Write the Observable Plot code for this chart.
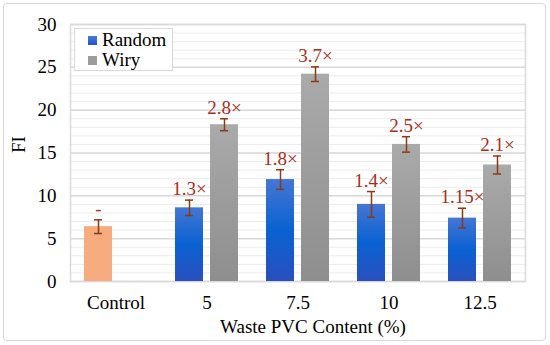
<!DOCTYPE html>
<html>
<head>
<meta charset="utf-8">
<script src="https://cdn.jsdelivr.net/npm/d3@7"></script>
<script src="https://cdn.jsdelivr.net/npm/@observablehq/plot@0.6"></script>
<style>
  html, body { margin: 0; padding: 0; background: #fff; }
  #wrap { position: relative; width: 550px; height: 345px; font-family: "Liberation Serif", "Times New Roman", serif; }
  #border { position: absolute; left: 3px; top: 3px; width: 541px; height: 336px; border: 1.5px solid #d9d9d9; border-radius: 4px; pointer-events: none; }
  #legend { position: absolute; left: 74px; top: 28px; width: 97px; height: 41px; background: #fff; border: 1px solid #d9d9d9; font-size: 19px; color: #000; }
  .item { position: absolute; left: 13px; display: flex; align-items: center; line-height: 20px; }
  .sw { width: 9px; height: 9px; margin-right: 5px; }
</style>
</head>
<body>
<div id="wrap">
  <div id="chart"></div>
  <div id="border"></div>
  <div id="legend">
    <div class="item" style="top:1px"><span class="sw" style="background:linear-gradient(#4a78d6,#1d55c8)"></span>Random</div>
    <div class="item" style="top:21px"><span class="sw" style="background:#9c9c9c"></span>Wiry</div>
  </div>
</div>
<script>
// ---- data ----
const categories = ["Control", "5", "7.5", "10", "12.5"];
const controlValue = 6.4;
const controlErr = 0.8;
const controlLabel = "-";
const randomCats = ["5", "7.5", "10", "12.5"];
const randomValues = [8.6, 11.9, 9.0, 7.4];
const randomErr = [0.9, 1.15, 1.5, 1.15];
const randomLabels = ["1.3×", "1.8×", "1.4×", "1.15×"];
const wiryValues = [18.3, 24.2, 16.0, 13.6];
const wiryErr = [0.7, 0.85, 0.9, 1.05];
const wiryLabels = ["2.8×", "3.7×", "2.5×", "2.1×"];
const yTicks = [0, 5, 10, 15, 20, 25, 30];
const minorTicks = d3.range(0, 31, 1);

// ---- tables ----
const control = [{cat: "Control", v: controlValue, e: controlErr, label: controlLabel}];
const random = randomCats.map((c, i) => ({cat: c, v: randomValues[i], e: randomErr[i], label: randomLabels[i]}));
const wiry = randomCats.map((c, i) => ({cat: c, v: wiryValues[i], e: wiryErr[i], label: wiryLabels[i]}));
const leftSeries = control.concat(random);

const serif = "Liberation Serif, Times New Roman, serif";
const errColor = "#8b3a12";
const labelColor = "#a5301c";

// left slot (Random / Control) and right slot (Wiry) within each band
const L = {insetLeft: 14, insetRight: 49};
const R = {insetLeft: 49, insetRight: 14};
const Ldx = -17.5, Rdx = 17.5;

function errMarks(data, dx) {
  return [
    Plot.ruleX(data, {x: "cat", y1: d => d.v - d.e, y2: d => d.v + d.e, dx, stroke: errColor, strokeWidth: 1.5}),
    Plot.tickY(data, {x: "cat", y: d => d.v + d.e, stroke: errColor, strokeWidth: 1.5,
      insetLeft: 45.5 + dx - 4, insetRight: 45.5 - dx - 4}),
    Plot.tickY(data, {x: "cat", y: d => d.v - d.e, stroke: errColor, strokeWidth: 1.5,
      insetLeft: 45.5 + dx - 4, insetRight: 45.5 - dx - 4}),
    Plot.text(data, {x: "cat", y: d => d.v + d.e, text: "label", dx, dy: -11, fill: labelColor,
      fontSize: 19, fontFamily: serif, textAnchor: "middle", lineAnchor: "middle"})
  ];
}

const plot = Plot.plot({
  width: 550,
  height: 345,
  marginLeft: 70,
  marginRight: 25,
  marginTop: 24,
  marginBottom: 64,
  style: {fontFamily: serif, fontSize: "19px", color: "#000", background: "transparent"},
  x: {domain: categories, padding: 0, tickSize: 0, tickPadding: 14, label: null},
  y: {domain: [0, 30], ticks: yTicks, tickSize: 0, tickPadding: 14, label: null},
  marks: [
    Plot.ruleY(minorTicks, {stroke: "#ececec", strokeWidth: 1}),
    Plot.ruleY(yTicks, {stroke: "#d9d9d9", strokeWidth: 1.5}),
    Plot.frame({stroke: "#d9d9d9", strokeWidth: 1.5}),
    Plot.barY(control, {x: "cat", y: "v", fill: "#f7ac80", ...L}),
    Plot.barY(random, {x: "cat", y: "v", fill: "url(#gradBlue)", ...L}),
    Plot.barY(wiry, {x: "cat", y: "v", fill: "url(#gradGrey)", ...R}),
    ...errMarks(leftSeries, Ldx),
    ...errMarks(wiry, Rdx),
    Plot.text(["FI"], {frameAnchor: "left", dx: -52, rotate: -90, fontSize: 19, fontFamily: serif, fill: "#000"}),
    Plot.text(["Waste PVC Content (%)"], {frameAnchor: "bottom", dy: 51, dx: 15, fontSize: 19, fontFamily: serif, fill: "#000"})
  ]
});

const svg = d3.select(plot);
const defs = svg.insert("defs", ":first-child");
const gb = defs.append("linearGradient").attr("id", "gradBlue").attr("x1", 0).attr("y1", 0).attr("x2", 0).attr("y2", 1);
gb.append("stop").attr("offset", "0%").attr("stop-color", "#4676d4");
gb.append("stop").attr("offset", "50%").attr("stop-color", "#0a62d2");
gb.append("stop").attr("offset", "100%").attr("stop-color", "#2a4fbe");
const gg = defs.append("linearGradient").attr("id", "gradGrey").attr("x1", 0).attr("y1", 0).attr("x2", 0).attr("y2", 1);
gg.append("stop").attr("offset", "0%").attr("stop-color", "#aaaaaa");
gg.append("stop").attr("offset", "100%").attr("stop-color", "#8e8e8e");

document.getElementById("chart").appendChild(plot);
</script>
</body>
</html>
